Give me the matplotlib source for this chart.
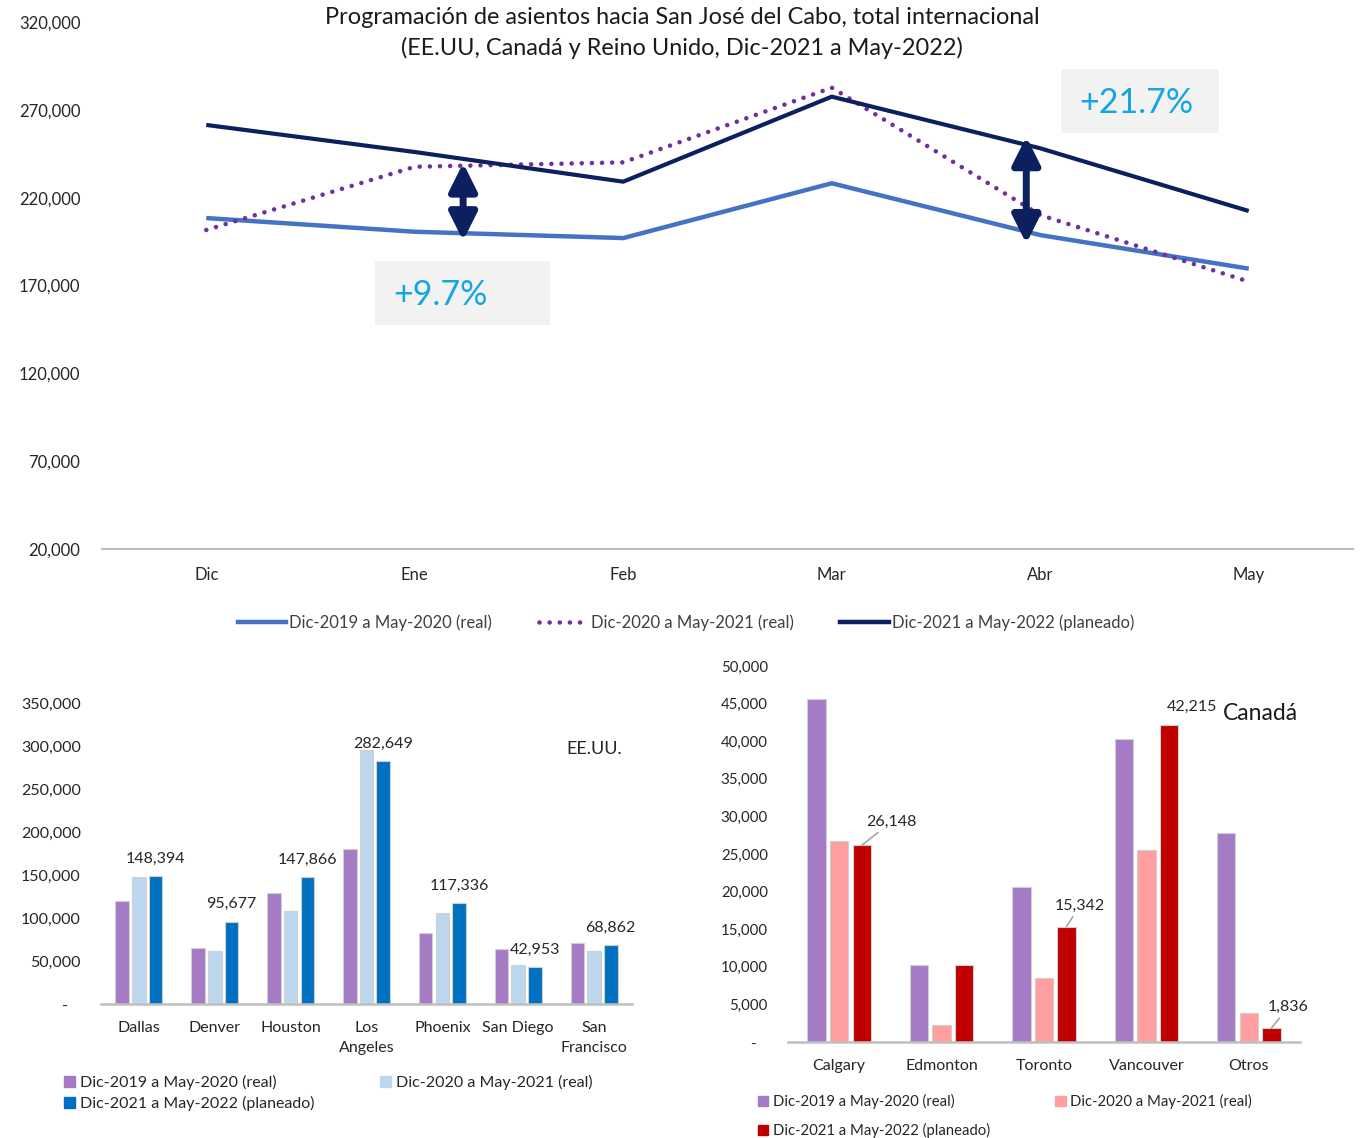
import matplotlib
matplotlib.use('Agg')
import matplotlib.pyplot as plt
from matplotlib.patches import Rectangle, Patch
from matplotlib.lines import Line2D
from matplotlib.ticker import FuncFormatter
import numpy as np

plt.rcParams['font.family'] = ['Lato', 'DejaVu Sans']

# ---------------- data ----------------
months = ['Dic', 'Ene', 'Feb', 'Mar', 'Abr', 'May']
s2019 = [208400, 200600, 197000, 228200, 198700, 179600]
s2020 = [201600, 237600, 240100, 282600, 210100, 172200]
s2021 = [261400, 246000, 229100, 277500, 248100, 212400]
series_labels = ['Dic-2019 a May-2020 (real)', 'Dic-2020 a May-2021 (real)',
                 'Dic-2021 a May-2022 (planeado)']

us_cities = ['Dallas', 'Denver', 'Houston', 'Los\nAngeles', 'Phoenix', 'San Diego', 'San\nFrancisco']
us_2019 = [119800, 64800, 129100, 179900, 82200, 64000, 70600]
us_2020 = [147700, 61300, 107800, 295000, 105400, 45300, 61300]
us_2021 = [148394, 95677, 147866, 282649, 117336, 42953, 68862]

ca_cities = ['Calgary', 'Edmonton', 'Toronto', 'Vancouver', 'Otros']
ca_2019 = [45660, 10200, 20660, 40290, 27750]
ca_2020 = [26690, 2310, 8560, 25580, 3820]
ca_2021 = [26148, 10200, 15342, 42215, 1836]
ca_labeled = ['Calgary', 'Toronto', 'Vancouver', 'Otros']

# ---------------- layout helpers ----------------
W, H = 1360, 1138
fig = plt.figure(figsize=(W / 100, H / 100), dpi=100)


def fx(px):
    return px / W


def fy(py):
    return 1 - py / H


def ax_rect(l, t, r, b):
    return [fx(l), fy(b), fx(r) - fx(l), fy(t) - fy(b)]


TXT = '#262626'
AXIS = '#BFBFBF'
fmt = FuncFormatter(lambda v, p: '-   ' if v == 0 else f'{v:,.0f}')

C_BLUE = '#4472C4'
C_PURP = '#7030A0'
C_NAVY = '#0C1F5E'

# ---------------- top line chart ----------------
ax = fig.add_axes(ax_rect(102, 22, 1353, 549))
x = np.arange(len(months))
ax.plot(x, s2019, color=C_BLUE, lw=3.2, solid_capstyle='butt')
ax.plot(x, s2020, color=C_PURP, lw=3.3, linestyle=(0, (0.01, 2.2)), dash_capstyle='round')
ax.plot(x, s2021, color=C_NAVY, lw=3.0, solid_capstyle='butt')
ax.set_xlim(-0.5, len(months) - 0.5)
ax.set_ylim(20000, 320000)
ax.set_yticks(np.arange(20000, 320001, 50000))
ax.yaxis.set_major_formatter(fmt)
ax.set_xticks(x)
ax.set_xticklabels(months)
ax.tick_params(axis='both', length=0, labelsize=12, colors=TXT)
ax.tick_params(axis='y', pad=15.5)
ax.tick_params(axis='x', pad=13)
for s in ['top', 'right', 'left']:
    ax.spines[s].set_visible(False)
ax.spines['bottom'].set_color(AXIS)
ax.spines['bottom'].set_linewidth(1.5)
ax.patch.set_alpha(0)

arrow_kw = dict(arrowstyle='<|-|>,head_length=1.2,head_width=0.6', color=C_NAVY,
                lw=5, shrinkA=0, shrinkB=0, mutation_scale=14)
ax.annotate('', xy=(1.232, 195500), xytext=(1.232, 239700), arrowprops=arrow_kw)
ax.annotate('', xy=(3.933, 193900), xytext=(3.933, 254700), arrowprops=arrow_kw)

# callout boxes
for (l, t, r, b, txt) in [(375, 261, 550, 325, '+9.7%'), (1061, 69, 1219, 133, '+21.7%')]:
    fig.patches.append(Rectangle((fx(l), fy(b)), fx(r) - fx(l), fy(t) - fy(b),
                                 transform=fig.transFigure, facecolor='#F2F2F2',
                                 edgecolor='none', zorder=0))
    fig.text(fx(l + 18), fy((t + b) / 2 + 2), txt, ha='left', va='center',
             fontsize=24.5, color='#14A6E0')

fig.text(fx(682), fy(18), 'Programación de asientos hacia San José del Cabo, total internacional',
         ha='center', va='center', fontsize=16.9, color='#1a1a1a')
fig.text(fx(682), fy(48), '(EE.UU, Canadá y Reino Unido, Dic-2021 a May-2022)',
         ha='center', va='center', fontsize=16.9, color='#1a1a1a')

handles = [Line2D([], [], color=C_BLUE, lw=3.2),
           Line2D([], [], color=C_PURP, lw=3.3, linestyle=(0, (0.01, 2.2)), dash_capstyle='round'),
           Line2D([], [], color=C_NAVY, lw=3.2)]
fig.legend(handles, series_labels, loc='center', bbox_to_anchor=(fx(686), fy(623)),
           ncol=3, frameon=False, fontsize=12, handlelength=2.9, handletextpad=0.2,
           columnspacing=2.8, labelcolor='#404040')

# ---------------- bar chart helper ----------------
BW = 0.18
STEP = 0.22


def bar_chart(rect, cats, vals, colors, ymax, ystep, ysize):
    a = fig.add_axes(rect)
    xx = np.arange(len(cats))
    for i, (v, c) in enumerate(zip(vals, colors)):
        a.bar(xx + (i - 1) * STEP, v, width=BW, color=c, edgecolor='#D0D0D0', linewidth=0.8)
    a.set_xlim(-0.5, len(cats) - 0.5)
    a.set_ylim(0, ymax)
    a.set_yticks(np.arange(0, ymax + 1, ystep))
    a.yaxis.set_major_formatter(fmt)
    a.set_xticks(xx)
    a.set_xticklabels(cats, linespacing=1.5)
    a.tick_params(axis='both', length=0, labelsize=11.5, colors=TXT)
    a.tick_params(axis='y', pad=14.5, labelsize=ysize)
    a.tick_params(axis='x', pad=12.5)
    for s in ['top', 'right', 'left']:
        a.spines[s].set_visible(False)
    a.spines['bottom'].set_color(AXIS)
    a.spines['bottom'].set_linewidth(1.8)
    a.patch.set_alpha(0)
    return a, xx


# ---------------- EE.UU. ----------------
us_colors = ['#A47BC4', '#BDD7EE', '#0070C0']
axu, xu = bar_chart(ax_rect(101, 703, 632, 1004), us_cities, [us_2019, us_2020, us_2021],
                    us_colors, 350000, 50000, 11.5)
for xi, v in zip(xu, us_2021):
    axu.annotate(f'{v:,.0f}', xy=(xi + STEP, v), xytext=(0, 12.5), textcoords='offset points',
                 ha='center', va='center', fontsize=11.5, color=TXT)
fig.text(fx(594), fy(749), 'EE.UU.', ha='center', va='center', fontsize=13, color=TXT)
fig.legend([Patch(color=us_colors[0]), Patch(color=us_colors[2]), Patch(color=us_colors[1])],
           [series_labels[0], series_labels[2], series_labels[1]],
           loc='upper left', bbox_to_anchor=(fx(64), fy(1075)), ncol=2, frameon=False,
           fontsize=11.5, handlelength=0.7, handleheight=0.7, handletextpad=0.3,
           columnspacing=4.1, labelspacing=0.35, borderpad=0, borderaxespad=0,
           labelcolor=TXT)

# ---------------- Canadá ----------------
ca_colors = ['#A47BC4', '#FF9F9F', '#C00000']
axc, xc = bar_chart(ax_rect(788, 666, 1300, 1042), ca_cities, [ca_2019, ca_2020, ca_2021],
                    ca_colors, 50000, 5000, 10.8)
# label offsets (points) for the planned series
offs = {'Calgary': (21.5, 17), 'Toronto': (9.5, 15), 'Vancouver': (16.5, 12.5), 'Otros': (12, 15)}
leader = {'Calgary': True, 'Toronto': True, 'Vancouver': False, 'Otros': True}
for xi, cat, v in zip(xc, ca_cities, ca_2021):
    if cat not in ca_labeled:
        continue
    kw = dict(arrowstyle='-', color='#A6A6A6', lw=1.2, shrinkA=1, shrinkB=0) if leader[cat] else None
    axc.annotate(f'{v:,.0f}', xy=(xi + STEP, v), xytext=offs[cat], textcoords='offset points',
                 ha='center', va='center', fontsize=11.5, color=TXT, arrowprops=kw)
fig.text(fx(1260), fy(713), 'Canadá', ha='center', va='center', fontsize=16.5, color='#1a1a1a')
fig.legend([Patch(color=ca_colors[0]), Patch(color=ca_colors[2]), Patch(color=ca_colors[1])],
           [series_labels[0], series_labels[2], series_labels[1]],
           loc='upper left', bbox_to_anchor=(fx(758), fy(1094)), ncol=2, frameon=False,
           fontsize=10.7, handlelength=0.7, handleheight=0.7, handletextpad=0.3,
           columnspacing=4.4, labelspacing=0.95, borderpad=0, borderaxespad=0,
           labelcolor=TXT)

fig.savefig('out.png', dpi=100, facecolor='white')
